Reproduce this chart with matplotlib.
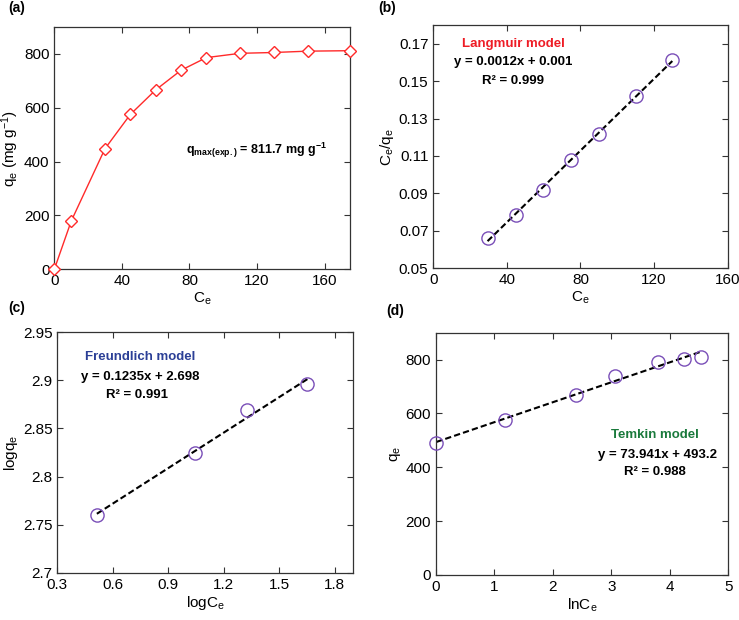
import matplotlib
matplotlib.use("Agg")
import matplotlib.pyplot as plt
import numpy as np

plt.rcParams['font.family'] = ['Liberation Sans', 'DejaVu Sans']
plt.rcParams['mathtext.fontset'] = 'custom'
plt.rcParams['mathtext.rm'] = 'Liberation Sans'
plt.rcParams['mathtext.it'] = 'Liberation Sans'
plt.rcParams['mathtext.bf'] = 'Liberation Sans:bold'

# (a) isotherm
ce_a = [0, 10, 30, 45, 60, 75, 90, 110, 130, 150, 175]
qe_a = [0, 179, 448, 575, 666, 739, 786, 802, 805, 810, 811.7]

# (b) Langmuir
ce_b = [29.5, 44.8, 59.6, 74.8, 89.9, 110, 129.9]
ceqe_b = [0.0664, 0.0782, 0.0919, 0.108, 0.1219, 0.142, 0.1613]

# (c) Freundlich
logce_c = [0.514, 1.045, 1.326, 1.652]
logqe_c = [2.760, 2.8248, 2.869, 2.8966]

# (d) Temkin
lnce_d = [0.006, 1.18, 2.40, 3.06, 3.80, 4.24, 4.54]
qe_d = [491, 576, 668, 740, 790, 804, 811]

purple = '#7a4fb8'
fs = 11

fig = plt.figure(figsize=(7.39, 6.2), dpi=100)
axa = fig.add_axes([0.0735, 0.5656, 0.400, 0.391])
axb = fig.add_axes([0.5863, 0.5673, 0.3984, 0.3924])
axc = fig.add_axes([0.0775, 0.0763, 0.4005, 0.3877])
axd = fig.add_axes([0.590, 0.0726, 0.3955, 0.3908])

for ax in [axa, axb, axc, axd]:
    ax.tick_params(direction='in', top=True, right=True, length=4, width=0.8,
                   labelsize=fs, color='#333333')
    for s in ax.spines.values():
        s.set_linewidth(0.9)
        s.set_color('#333333')

# (a)
axa.plot(ce_a, qe_a, '-', color='#ff2a2a', lw=1, marker='D', ms=6.5,
         mfc='white', mec='#ff2a2a', mew=1, clip_on=False, zorder=3)
axa.set_xlim(0, 175)
axa.set_ylim(0, 900)
axa.set_xticks([0, 40, 80, 120, 160])
axa.set_yticks([0, 200, 400, 600, 800])
axa.set_xlabel('C$_\\mathrm{e}$', fontsize=fs, labelpad=2)
axa.set_ylabel('q$_\\mathrm{e}$ (mg g$^{-1}$)', fontsize=fs, labelpad=2)
axa.text(0.685, 0.492, r'$\mathbf{q_{max(exp.)}}$' + ' = 811.7 mg g' + r'$\mathbf{^{-1}}$',
         transform=axa.transAxes, ha='center', va='center', fontsize=9,
         fontweight='bold')


def fit_plot(ax, x, y):
    k, b = np.polyfit(x, y, 1)
    xx = np.array([min(x), max(x)])
    ax.plot(xx, k * xx + b, '--', color='black', lw=1.5, dashes=(3, 1.5), zorder=2)
    ax.plot(x, y, 'o', ms=9.5, mfc='none', mec=purple, mew=1, zorder=3, clip_on=False)


# (b)
fit_plot(axb, ce_b, ceqe_b)
axb.set_xlim(0, 160)
axb.set_ylim(0.05, 0.18)
axb.set_xticks([0, 40, 80, 120, 160])
axb.set_yticks([0.05, 0.07, 0.09, 0.11, 0.13, 0.15, 0.17])
axb.set_yticklabels(['0.05', '0.07', '0.09', '0.11', '0.13', '0.15', '0.17'])
axb.set_xlabel('C$_\\mathrm{e}$', fontsize=fs, labelpad=2)
axb.set_ylabel('C$_\\mathrm{e}$/q$_\\mathrm{e}$', fontsize=fs, labelpad=2)
axb.text(0.272, 0.922, 'Langmuir model', color='#ee1c25', fontweight='bold',
         fontsize=9.5, transform=axb.transAxes, ha='center', va='center')
axb.text(0.272, 0.848, 'y = 0.0012x + 0.001', fontweight='bold',
         fontsize=9.5, transform=axb.transAxes, ha='center', va='center')
axb.text(0.272, 0.770, 'R² = 0.999', fontweight='bold',
         fontsize=9.5, transform=axb.transAxes, ha='center', va='center')

# (c)
fit_plot(axc, logce_c, logqe_c)
axc.set_xlim(0.3, 1.9)
axc.set_ylim(2.7, 2.95)
axc.set_xticks([0.3, 0.6, 0.9, 1.2, 1.5, 1.8])
axc.set_yticks([2.7, 2.75, 2.8, 2.85, 2.9, 2.95])
axc.set_yticklabels(['2.7', '2.75', '2.8', '2.85', '2.9', '2.95'])
axc.set_xlabel('logC$_\\mathrm{e}$', fontsize=fs, labelpad=2)
axc.set_ylabel('logq$_\\mathrm{e}$', fontsize=fs, labelpad=2)
axc.text(0.279, 0.896, 'Freundlich model', color='#2b3f96', fontweight='bold',
         fontsize=9.5, transform=axc.transAxes, ha='center', va='center')
axc.text(0.279, 0.815, 'y = 0.1235x + 2.698', fontweight='bold',
         fontsize=9.5, transform=axc.transAxes, ha='center', va='center')
axc.text(0.268, 0.739, 'R² = 0.991', fontweight='bold',
         fontsize=9.5, transform=axc.transAxes, ha='center', va='center')

# (d)
fit_plot(axd, lnce_d, qe_d)
axd.set_xlim(0, 5)
axd.set_ylim(0, 900)
axd.set_xticks([0, 1, 2, 3, 4, 5])
axd.set_yticks([0, 200, 400, 600, 800])
axd.set_xlabel('lnC$_\\mathrm{e}$', fontsize=fs, labelpad=2)
axd.set_ylabel('q$_\\mathrm{e}$', fontsize=fs, labelpad=2)
axd.text(0.749, 0.578, 'Temkin model', color='#1a7a3c', fontweight='bold',
         fontsize=9.5, transform=axd.transAxes, ha='center', va='center')
axd.text(0.757, 0.495, 'y = 73.941x + 493.2', fontweight='bold',
         fontsize=9.5, transform=axd.transAxes, ha='center', va='center')
axd.text(0.749, 0.426, 'R² = 0.988', fontweight='bold',
         fontsize=9.5, transform=axd.transAxes, ha='center', va='center')

# panel letters
fig.text(8 / 739, 1 - 8 / 620, '(a)', fontweight='bold', fontsize=10, va='center')
fig.text(378 / 739, 1 - 8 / 620, '(b)', fontweight='bold', fontsize=10, va='center')
fig.text(8 / 739, 1 - 308 / 620, '(c)', fontweight='bold', fontsize=10, va='center')
fig.text(386 / 739, 1 - 311 / 620, '(d)', fontweight='bold', fontsize=10, va='center')

fig.savefig('out.png', dpi=100)
